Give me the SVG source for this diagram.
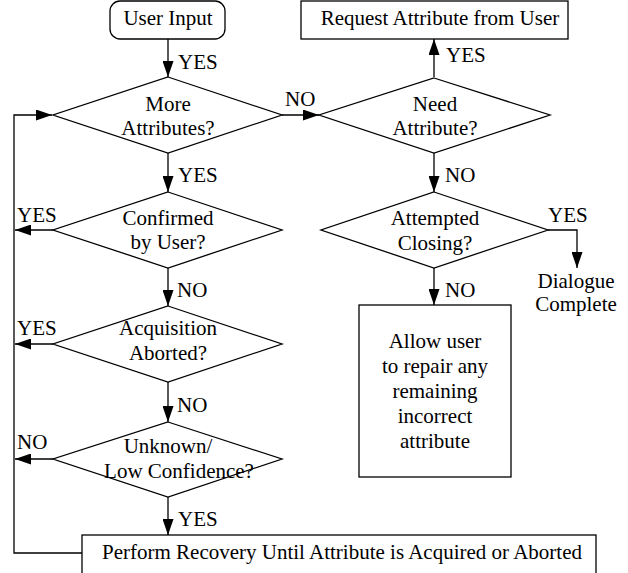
<svg xmlns="http://www.w3.org/2000/svg" width="628" height="573" viewBox="0 0 628 573">
<style>
.s{fill:#fff;stroke:#000;stroke-width:1.3}
text{font-family:'Liberation Serif','Times New Roman',Times,'DejaVu Serif',serif;font-size:21px;fill:#000}
.c{text-anchor:middle}
.l{fill:none;stroke:#000;stroke-width:1.3}
</style>
<defs>
<marker id="ah" markerUnits="userSpaceOnUse" markerWidth="16" markerHeight="11" refX="16" refY="5.5" orient="auto">
<path d="M0,0 L16,5.5 L0,11 z" fill="#000"/>
</marker>
</defs>
<rect width="628" height="573" fill="#fff"/>
<g font-family="'Liberation Serif', 'Times New Roman', Times, serif" font-size="21">
<g id="connectors">
<line class="l" x1="168" y1="39" x2="168" y2="77" marker-end="url(#ah)"/>
<line class="l" x1="282" y1="115" x2="319" y2="115" marker-end="url(#ah)"/>
<line class="l" x1="434" y1="77" x2="434" y2="39" marker-end="url(#ah)"/>
<line class="l" x1="434" y1="153" x2="434" y2="192" marker-end="url(#ah)"/>
<path class="l" d="M548,230 H577 V268" marker-end="url(#ah)"/>
<line class="l" x1="434" y1="268" x2="434" y2="305" marker-end="url(#ah)"/>
<line class="l" x1="168" y1="153" x2="168" y2="192" marker-end="url(#ah)"/>
<line class="l" x1="53" y1="230" x2="15" y2="230" marker-end="url(#ah)"/>
<line class="l" x1="168" y1="268" x2="168" y2="306" marker-end="url(#ah)"/>
<line class="l" x1="53" y1="344" x2="15" y2="344" marker-end="url(#ah)"/>
<line class="l" x1="168" y1="382" x2="168" y2="422" marker-end="url(#ah)"/>
<line class="l" x1="53" y1="459" x2="15" y2="459" marker-end="url(#ah)"/>
<line class="l" x1="168" y1="497" x2="168" y2="535" marker-end="url(#ah)"/>
<path class="l" d="M82,553 H14 V115 H52" marker-end="url(#ah)"/>
<text x="178" y="69">YES</text>
<text x="285" y="106">NO</text>
<text x="446" y="62">YES</text>
<text x="445" y="182">NO</text>
<text x="548" y="222">YES</text>
<text x="445" y="297">NO</text>
<text x="178" y="182">YES</text>
<text x="17" y="222">YES</text>
<text x="177" y="297">NO</text>
<text x="17" y="335">YES</text>
<text x="177" y="412">NO</text>
<text x="17" y="449">NO</text>
<text x="178" y="526">YES</text>
</g>
<g id="user-input">
<rect class="s" x="110" y="1" width="115" height="38" rx="10"/>
<text class="c" x="168" y="25">User Input</text>
</g>
<g id="request">
<rect class="s" x="301" y="1" width="267" height="38"/>
<text class="c" x="440" y="25">Request Attribute from User</text>
</g>
<g id="more-attributes">
<polygon class="s" points="168,77 282,115 168,153 53,115"/>
<text class="c" x="168" y="111">More</text>
<text class="c" x="168" y="135">Attributes?</text>
</g>
<g id="need-attribute">
<polygon class="s" points="434,78 550,115 434,153 319,115"/>
<text class="c" x="435" y="111">Need</text>
<text class="c" x="435" y="135">Attribute?</text>
</g>
<g id="attempted-closing">
<polygon class="s" points="434,192 548,230 434,268 321,230"/>
<text class="c" x="435" y="225">Attempted</text>
<text class="c" x="435" y="250">Closing?</text>
</g>
<g id="dialogue-complete">
<text class="c" x="576" y="288">Dialogue</text>
<text class="c" x="576" y="311">Complete</text>
</g>
<g id="allow-user">
<rect class="s" x="359" y="305" width="152" height="172"/>
<text class="c" x="435" y="348">Allow user</text>
<text class="c" x="435" y="373">to repair any</text>
<text class="c" x="435" y="398">remaining</text>
<text class="c" x="435" y="423">incorrect</text>
<text class="c" x="435" y="448">attribute</text>
</g>
<g id="confirmed">
<polygon class="s" points="168,192 282,230 168,268 53,230"/>
<text class="c" x="168" y="225">Confirmed</text>
<text class="c" x="168" y="249">by User?</text>
</g>
<g id="acquisition-aborted">
<polygon class="s" points="168,306 282,344 168,382 53,344"/>
<text class="c" x="168" y="335">Acquisition</text>
<text class="c" x="168" y="360">Aborted?</text>
</g>
<g id="unknown">
<polygon class="s" points="168,422 282,459 168,497 53,459"/>
<text class="c" x="168" y="453">Unknown/</text>
<text class="c" x="179" y="478">Low Confidence?</text>
</g>
<g id="perform-recovery">
<rect class="s" x="82" y="535" width="514" height="50"/>
<text class="c" x="342" y="559">Perform Recovery Until Attribute is Acquired or Aborted</text>
</g>
</g>
</svg>
